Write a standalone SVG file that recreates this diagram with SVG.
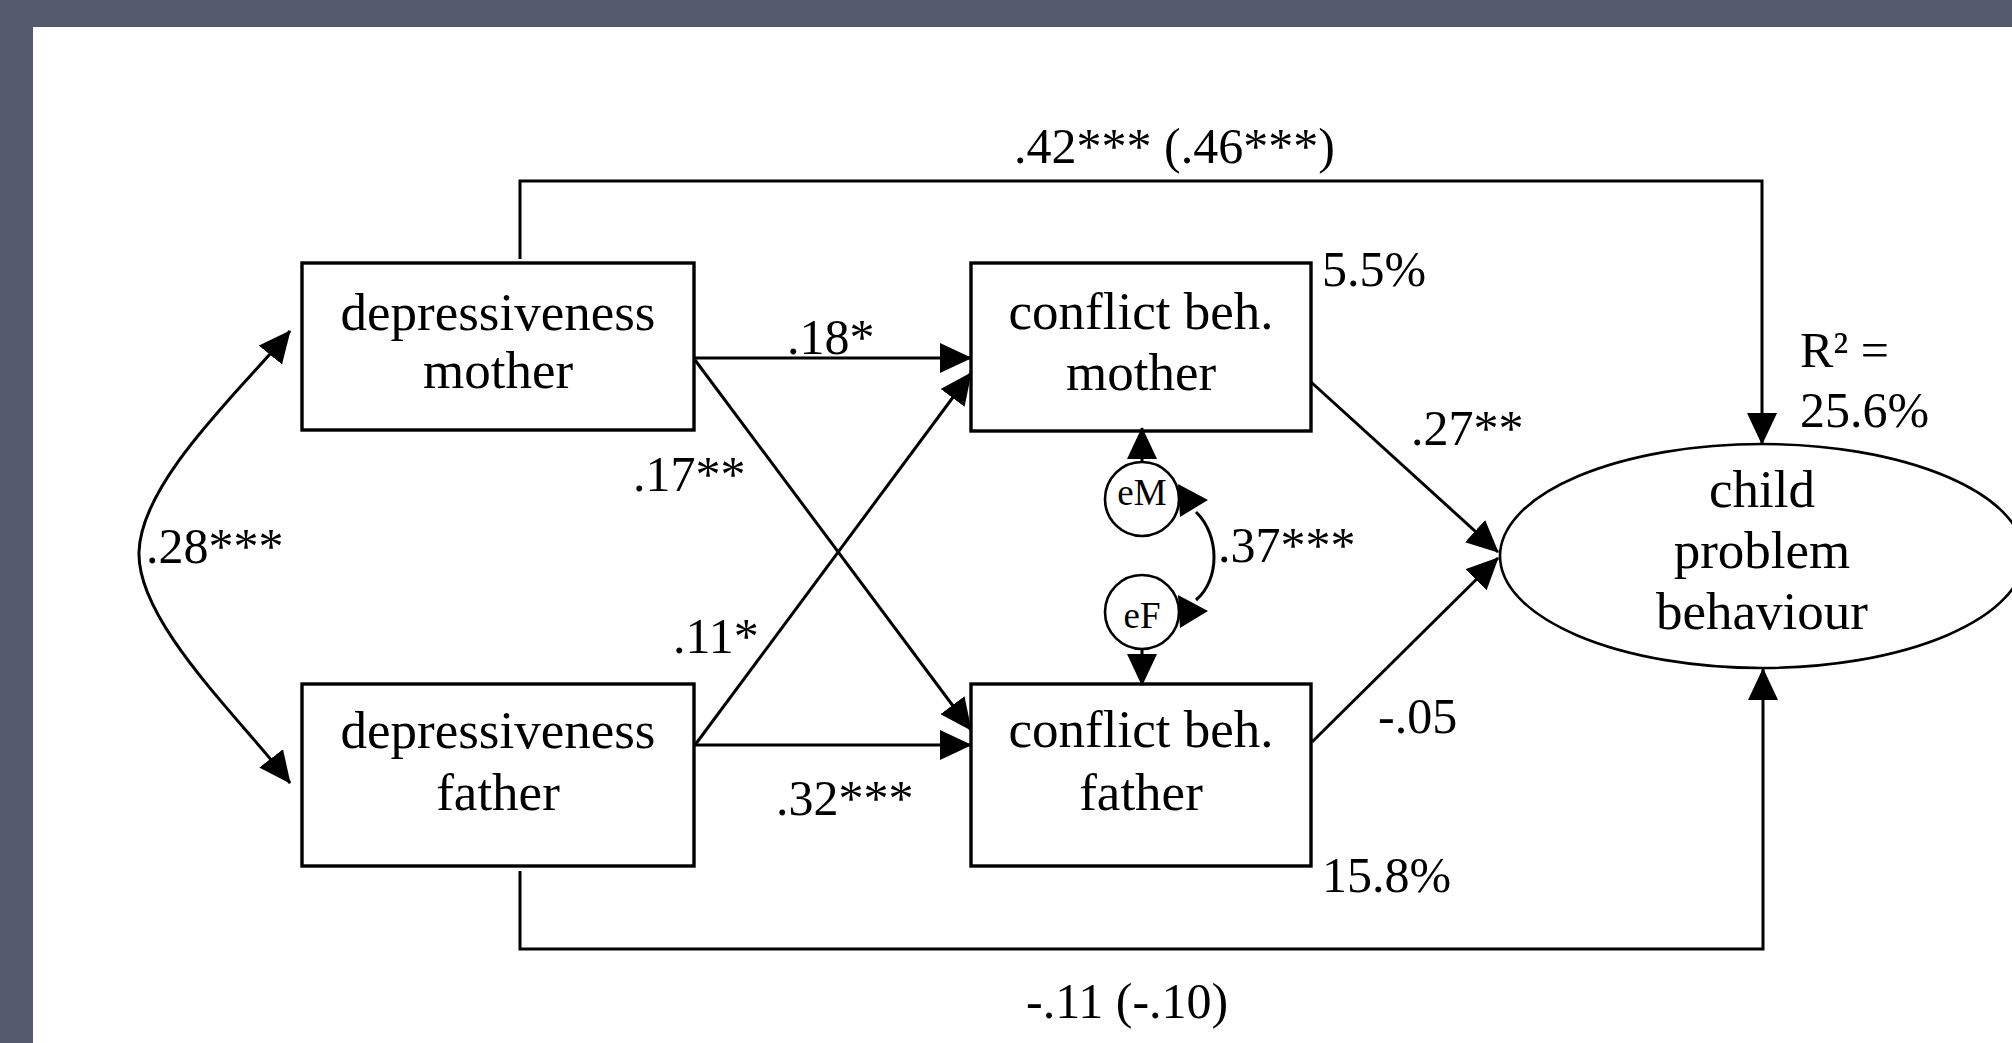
<svg xmlns="http://www.w3.org/2000/svg" width="2012" height="1043" viewBox="0 0 2012 1043">
<defs>
<style>
.box{fill:#fff;stroke:#000;stroke-width:3.4}
.ell{fill:#fff;stroke:#000;stroke-width:2.6}
.t{font-family:"Liberation Serif","Times New Roman",serif;fill:#000}
.nt{font-size:53px;text-anchor:middle}
.et{font-size:37px;text-anchor:middle}
.lb{font-size:50px}
.c{fill:none;stroke:#000;stroke-width:3}
.h{fill:#000}
</style>
<marker id="ah" viewBox="0 0 32 30" refX="31" refY="15" markerWidth="32" markerHeight="30" markerUnits="userSpaceOnUse" orient="auto-start-reverse">
<path d="M0,0 L32,15 L0,30 z" fill="#000"/>
</marker>
</defs>
<rect width="2012" height="1043" fill="#535a6b"/>
<rect x="33" y="27" width="1979" height="1016" fill="#fff"/>

<g id="node-dep-mother">
<rect class="box" x="302" y="263" width="392" height="167"/>
<text class="t nt" x="498" y="330">depressiveness</text>
<text class="t nt" x="498" y="388">mother</text>
</g>
<g id="node-dep-father">
<rect class="box" x="302" y="684" width="392" height="182"/>
<text class="t nt" x="498" y="748">depressiveness</text>
<text class="t nt" x="498" y="810">father</text>
</g>
<g id="node-conf-mother">
<rect class="box" x="971" y="263" width="340" height="168"/>
<text class="t nt" x="1141" y="329">conflict beh.</text>
<text class="t nt" x="1141" y="390">mother</text>
</g>
<g id="node-conf-father">
<rect class="box" x="971" y="684" width="340" height="182"/>
<text class="t nt" x="1141" y="747">conflict beh.</text>
<text class="t nt" x="1141" y="810">father</text>
</g>
<g id="node-child">
<ellipse class="ell" cx="1762" cy="556" rx="262" ry="112"/>
<text class="t nt" x="1762" y="507">child</text>
<text class="t nt" x="1762" y="568">problem</text>
<text class="t nt" x="1762" y="629">behaviour</text>
</g>
<g id="node-eM">
<circle class="ell" cx="1142" cy="499" r="37"/>
<text class="t et" x="1142" y="505">eM</text>
</g>
<g id="node-eF">
<circle class="ell" cx="1142" cy="612" r="37"/>
<text class="t et" x="1142" y="628">eF</text>
</g>

<g id="connectors">
<path class="c" d="M520,259 V181 H1762 V444" marker-end="url(#ah)"/>
<path class="c" d="M520,871 V949 H1763 V669" marker-end="url(#ah)"/>
<path class="c" d="M695,358 H971" marker-end="url(#ah)"/>
<path class="c" d="M695,360 L971,730" marker-end="url(#ah)"/>
<path class="c" d="M695,745 L971,373" marker-end="url(#ah)"/>
<path class="c" d="M695,745 H971" marker-end="url(#ah)"/>
<path class="c" d="M1311,382 L1498,552" marker-end="url(#ah)"/>
<path class="c" d="M1312,742 L1498,558" marker-end="url(#ah)"/>
<path class="c" d="M290,331 C245,386 141,480 139,552 C137,622 240,718 290,783" marker-start="url(#ah)" marker-end="url(#ah)"/>
<path class="c" d="M1142,462 V428" marker-end="url(#ah)"/>
<path class="c" d="M1142,649 V685" marker-end="url(#ah)"/>
<path class="c" d="M1196,512 C1220,535 1220,580 1196,600"/>
<polygon class="h" points="1178,484 1208,500 1180,517"/>
<polygon class="h" points="1178,595 1208,611 1180,628"/>
</g>

<g id="labels">
<text class="t lb" x="1014" y="163">.42*** (.46***)</text>
<text class="t lb" x="787" y="354">.18*</text>
<text class="t lb" x="633" y="491">.17**</text>
<text class="t lb" x="146" y="563">.28***</text>
<text class="t lb" x="673" y="653">.11*</text>
<text class="t lb" x="776" y="815">.32***</text>
<text class="t lb" x="1218" y="562">.37***</text>
<text class="t lb" x="1322" y="286">5.5%</text>
<text class="t lb" x="1411" y="445">.27**</text>
<text class="t lb" x="1800" y="367">R² =</text>
<text class="t lb" x="1800" y="427">25.6%</text>
<text class="t lb" x="1378" y="733">-.05</text>
<text class="t lb" x="1322" y="892">15.8%</text>
<text class="t lb" x="1026" y="1018">-.11 (-.10)</text>
</g>
</svg>
